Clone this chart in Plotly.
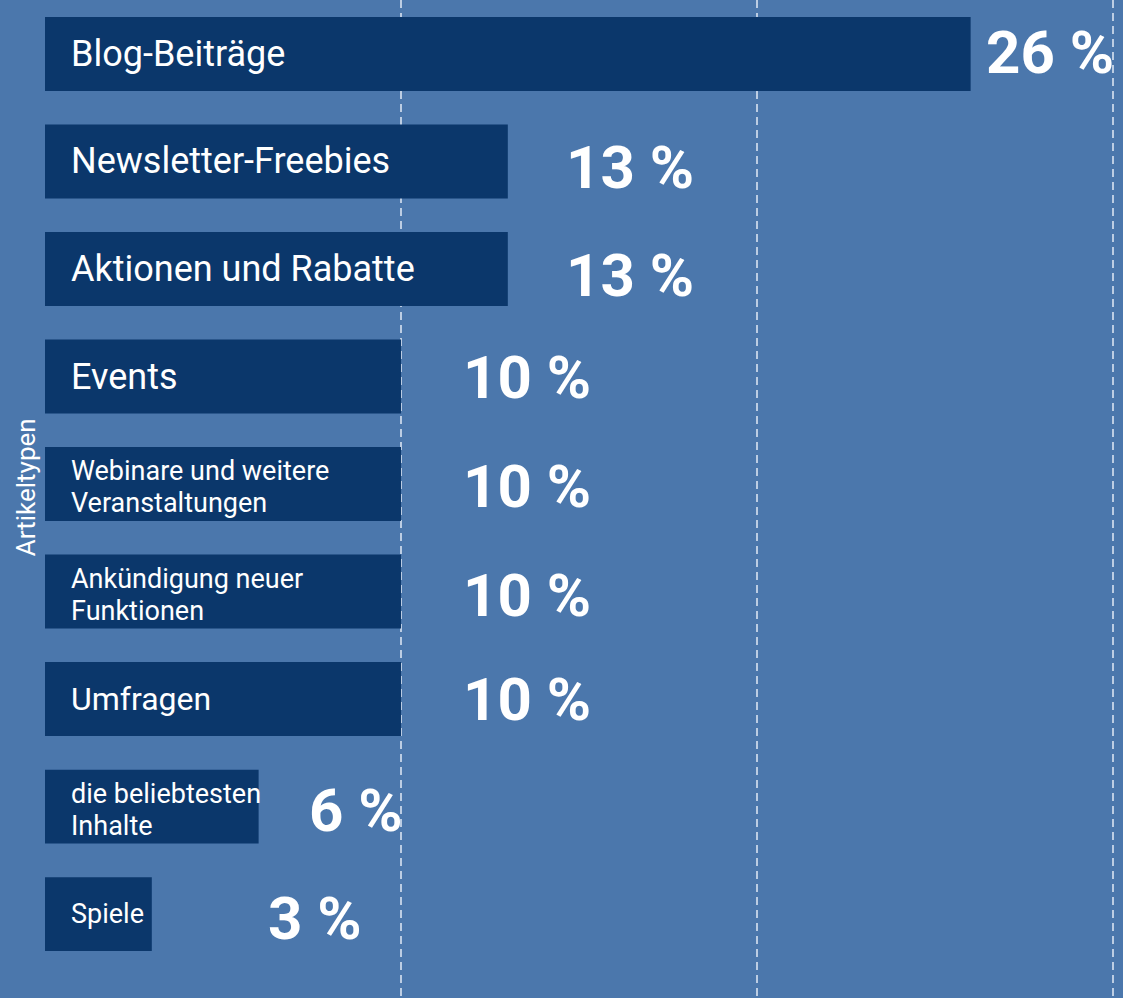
import plotly.graph_objects as go

categories = [
    "Blog-Beiträge",
    "Newsletter-Freebies",
    "Aktionen und Rabatte",
    "Events",
    "Webinare und weitere<br>Veranstaltungen",
    "Ankündigung neuer<br>Funktionen",
    "Umfragen",
    "die beliebtesten<br>Inhalte",
    "Spiele",
]
values = [26, 13, 13, 10, 10, 10, 10, 6, 3]
value_labels = ["26 %", "13 %", "13 %", "10 %", "10 %", "10 %", "10 %", "6 %", "3 %"]
axis_title = "Artikeltypen"

# style: per-label font size, value-label offsets (axis units) and vertical shifts
label_sizes = [36, 36, 36, 36, 27, 27, 32, 27, 27]
label_offsets = [2.23, 3.43, 3.43, 3.54, 3.54, 3.54, 3.54, 2.74, 4.58]
label_yshift = [1, -6, -6, -1, -2, -4, 0, -4, -4]
LINE_GAP = 16

BG = "#4b77ac"
BAR = "#0b376b"
FONT = "Roboto"

fig = go.Figure()
fig.add_trace(go.Bar(
    y=list(range(len(categories))),
    x=values,
    orientation="h",
    marker=dict(color=BAR, line=dict(width=0)),
    hoverinfo="skip",
))

annotations = []
for i, (cat, v, lab) in enumerate(zip(categories, values, value_labels)):
    lines = cat.split("<br>")
    if len(lines) == 1:
        annotations.append(dict(
            x=0, y=i, xref="x", yref="y", text=lines[0], showarrow=False,
            xanchor="left", yanchor="middle", xshift=24,
            font=dict(family=FONT, size=label_sizes[i], color="white"),
        ))
    else:
        for j, ln in enumerate(lines):
            annotations.append(dict(
                x=0, y=i, xref="x", yref="y", text=ln, showarrow=False,
                xanchor="left", yanchor="middle", xshift=24,
                yshift=(-1 if j else 1) * LINE_GAP - 3,
                font=dict(family=FONT, size=label_sizes[i], color="white"),
            ))
    annotations.append(dict(
        x=v + label_offsets[i], y=i, xref="x", yref="y", text="<b>%s</b>" % lab,
        showarrow=False, xanchor="center", yanchor="middle",
        yshift=label_yshift[i],
        font=dict(family=FONT, size=60, color="white"),
    ))

annotations.append(dict(
    x=-0.0175, y=0.512, xref="paper", yref="paper", text=axis_title, showarrow=False,
    textangle=-90, xanchor="center", yanchor="middle",
    font=dict(family=FONT, size=26, color="white"),
))

fig.update_layout(
    width=1123, height=998,
    margin=dict(l=45, r=0, t=0, b=0),
    paper_bgcolor=BG, plot_bgcolor=BG,
    bargap=0.312,
    showlegend=False,
    annotations=annotations,
    font=dict(family=FONT, color="white"),
)
fig.update_xaxes(
    range=[0, 30.28], dtick=10, tick0=0,
    showgrid=True, gridcolor="rgba(225,233,245,0.75)", gridwidth=1.5,
    griddash="8px,5px", zeroline=False, showticklabels=False, ticks="",
    showline=False, fixedrange=True,
)
fig.update_yaxes(
    range=[8.78, -0.502], showgrid=False, zeroline=False,
    showticklabels=False, ticks="", showline=False, fixedrange=True,
)

fig.write_html("out.html")
